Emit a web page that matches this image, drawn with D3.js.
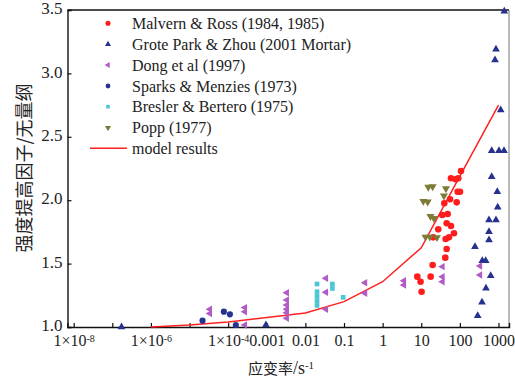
<!DOCTYPE html>
<html>
<head>
<meta charset="utf-8">
<script src="https://cdn.jsdelivr.net/npm/d3@7"></script>
<style>
  body { margin: 0; background: #fff; }
</style>
</head>
<body>
<svg id="chart" width="515" height="379"></svg>
<script>
// strain rate (1/s), dynamic increase factor
const malvern = [
  [107, 2.23], [58.8, 2.173], [77.8, 2.165], [91, 2.173], [87.7, 2.067], [100.7, 2.067],
  [55.5, 2.007], [39.5, 1.976], [82.6, 1.983], [48.3, 1.891], [35, 1.883], [45.5, 1.818],
  [58.8, 1.797], [27.5, 1.77], [70.3, 1.739], [20.5, 1.707], [42.9, 1.694], [52.2, 1.707],
  [45.5, 1.615], [41.9, 1.547], [19.7, 1.489], [7.9, 1.397], [9.6, 1.357], [17.5, 1.397],
  [10.2, 1.278]
];
const grote = [
  [1413, 3.49], [861, 3.19], [812, 3.106], [1140, 2.711], [667, 2.39], [1030, 2.39],
  [1388, 2.39], [667, 2.185], [930, 2.067], [953, 1.944], [567, 1.844], [861, 1.844],
  [567, 1.752], [567, 1.686], [246, 1.633], [380, 1.523], [466, 1.523], [628, 1.405],
  [474, 1.305], [374, 1.195], [289, 1.089], [1.73e-7, 1.0], [9.5e-4, 1.016]
];
const dong = [
  [3.36e-5, 1.14], [3.36e-5, 1.106], [2.71e-4, 1.153], [2.71e-4, 1.121], [2.71e-4, 1.016],
  [3.3e-3, 1.27], [3.3e-3, 1.213], [3.3e-3, 1.173], [3.3e-3, 1.14], [3.3e-3, 1.113], [3.3e-3, 1.069],
  [0.034, 1.384], [0.034, 1.274], [0.034, 1.14], [0.35, 1.349], [0.35, 1.266],
  [3.56, 1.365], [3.56, 1.331], [35.4, 1.476], [35.4, 1.397], [35.4, 1.357],
  [332, 1.481], [332, 1.41]
];
const sparks = [[2.17e-5, 1.05], [7.74e-5, 1.121], [1.11e-4, 1.1], [1.58e-4, 1.016]];
const bresler = [
  [0.02, 1.339], [0.02, 1.278], [0.02, 1.241], [0.02, 1.205], [0.02, 1.17],
  [0.05, 1.339], [0.05, 1.304], [0.095, 1.234]
];
const popp = [
  [15.2, 2.104], [19.7, 2.108], [43.6, 2.091], [38.7, 2.034], [11.3, 1.992], [14.7, 1.987],
  [17.3, 1.873], [21.3, 1.857], [12.9, 1.71], [16.8, 1.71], [25.5, 1.706]
];
const model = [
  [1e-6, 1.0], [1e-5, 1.015], [1e-4, 1.04], [1e-3, 1.075], [0.01, 1.11],
  [0.1, 1.2], [1, 1.357], [10, 1.625], [100, 2.19], [1000, 2.75]
];

const xTicks = [1e-8, 1e-7, 1e-6, 1e-5, 1e-4, 1e-3, 0.01, 0.1, 1, 10, 100, 1000];
const xLabels = {1e-8: "1×10|-8", 1e-6: "1×10|-6", 1e-4: "1×10|-4", 1e-3: "0.001", 0.01: "0.01",
                 0.1: "0.1", 1: "1", 10: "10", 100: "100", 1000: "1000"};
const yTicks = [1.0, 1.5, 2.0, 2.5, 3.0, 3.5];

const seriesNames = ["Malvern & Ross (1984, 1985)", "Grote Park & Zhou (2001 Mortar)", "Dong et al (1997)",
                     "Sparks & Menzies (1973)", "Bresler & Bertero (1975)", "Popp (1977)", "model results"];

const SERIF = "'Liberation Serif'";
const CJK = "'Noto Sans CJK SC'";
const plotL = 67.5, plotR = 509, plotT = 10, plotB = 327;

const svg = d3.select("#chart");

const x = d3.scaleLog()
  .domain([Math.pow(10, -8.16), Math.pow(10, 3.272)])
  .range([plotL, plotR]);
const y = d3.scaleLinear()
  .domain([1.0, 3.5])
  .range([plotB, plotT]);

// frame top / right
svg.append("line").attr("x1", plotL).attr("x2", plotR).attr("y1", plotT).attr("y2", plotT)
  .attr("stroke", "#111").attr("stroke-width", 1.4);
svg.append("line").attr("x1", plotR).attr("x2", plotR).attr("y1", plotT).attr("y2", plotB)
  .attr("stroke", "#777").attr("stroke-width", 1);

// x axis
const xAxis = svg.append("g")
  .attr("transform", "translate(0," + plotB + ")")
  .call(d3.axisBottom(x).tickValues(xTicks).tickSize(-4).tickPadding(8)
    .tickFormat(d => xLabels[d] || ""));
xAxis.attr("font-family", null).attr("font-size", null);
xAxis.select(".domain").attr("stroke", "#111").attr("stroke-width", 1.4);
xAxis.selectAll(".tick line").attr("stroke", "#111").attr("stroke-width", 1.2);
xAxis.selectAll("text")
  .style("font-family", SERIF)
  .style("font-size", "16px")
  .attr("fill", "#222")
  .each(function(d) {
    const s = xLabels[d];
    if (!s || s.indexOf("|") < 0) return;
    const parts = s.split("|");
    const t = d3.select(this).text("");
    t.append("tspan").text(parts[0]);
    t.append("tspan").attr("dy", "-0.45em").style("font-size", "10px").text(parts[1]);
  });

// y axis
const yAxis = svg.append("g")
  .attr("transform", "translate(" + plotL + ",0)")
  .call(d3.axisLeft(y).tickValues(yTicks).tickSize(-4).tickPadding(5).tickFormat(d3.format(".1f")));
yAxis.attr("font-family", null).attr("font-size", null);
yAxis.select(".domain").attr("stroke", "#111").attr("stroke-width", 1.4);
yAxis.selectAll(".tick line").attr("stroke", "#111").attr("stroke-width", 1.2);
yAxis.selectAll("text")
  .style("font-family", SERIF)
  .style("font-size", "17px")
  .attr("dy", "0.22em")
  .attr("fill", "#222");

// axis titles
svg.append("text")
  .attr("transform", "translate(31," + 168 + ") rotate(-90)")
  .attr("text-anchor", "middle")
  .style("font-family", CJK)
  .style("font-size", "18px")
  .attr("fill", "#222")
  .text("强度提高因子/无量纲");

const xt = svg.append("text")
  .attr("x", 281).attr("y", 374)
  .attr("text-anchor", "middle")
  .attr("fill", "#222")
  .style("font-family", SERIF)
  .style("font-size", "18px");
xt.append("tspan").style("font-family", CJK).style("font-size", "15px").text("应变率");
xt.append("tspan").text("/s");
xt.append("tspan").attr("dy", "-0.5em").style("font-size", "11px").text("-1");

// model line
const line = d3.line().x(d => x(d[0])).y(d => y(d[1]));
svg.append("path")
  .datum(model)
  .attr("d", line)
  .attr("fill", "none")
  .attr("stroke", "#ff2020")
  .attr("stroke-width", 1.5);

// scatter series
const styles = [
  { data: malvern, color: "#ff1c1c", type: d3.symbolCircle, size: 34, rot: 0 },
  { data: grote, color: "#27318f", type: d3.symbolTriangle, size: 26, rot: 0 },
  { data: dong, color: "#b25bc6", type: d3.symbolTriangle, size: 24, rot: -90 },
  { data: sparks, color: "#27318f", type: d3.symbolCircle, size: 30, rot: 0 },
  { data: bresler, color: "#4cc6d6", type: d3.symbolSquare, size: 22, rot: 0 },
  { data: popp, color: "#7d7b35", type: d3.symbolTriangle, size: 28, rot: 180 }
];

const plot = svg.append("g");
styles.forEach(st => {
  plot.selectAll(null)
    .data(st.data)
    .enter().append("path")
    .attr("d", d3.symbol().type(st.type).size(st.size))
    .attr("transform", d => "translate(" + x(d[0]) + "," + y(d[1]) + ") rotate(" + st.rot + ")")
    .attr("fill", st.color);
});

// legend
const rowY = [23.3, 44.3, 65, 86, 106.7, 127.7, 148.3];
const legend = svg.append("g");
seriesNames.forEach((name, i) => {
  if (i < 6) {
    const st = styles[i];
    legend.append("path")
      .attr("d", d3.symbol().type(st.type).size(st.size * 0.6))
      .attr("transform", "translate(108," + rowY[i] + ") rotate(" + st.rot + ")")
      .attr("fill", st.color);
  } else {
    legend.append("line")
      .attr("x1", 90).attr("x2", 127).attr("y1", rowY[i]).attr("y2", rowY[i])
      .attr("stroke", "#ff2020").attr("stroke-width", 1.5);
  }
  legend.append("text")
    .attr("x", 132).attr("y", rowY[i] + 5.5)
    .attr("fill", "#222")
    .style("font-family", SERIF)
    .style("font-size", "16px")
    .text(name);
});
</script>
</body>
</html>
